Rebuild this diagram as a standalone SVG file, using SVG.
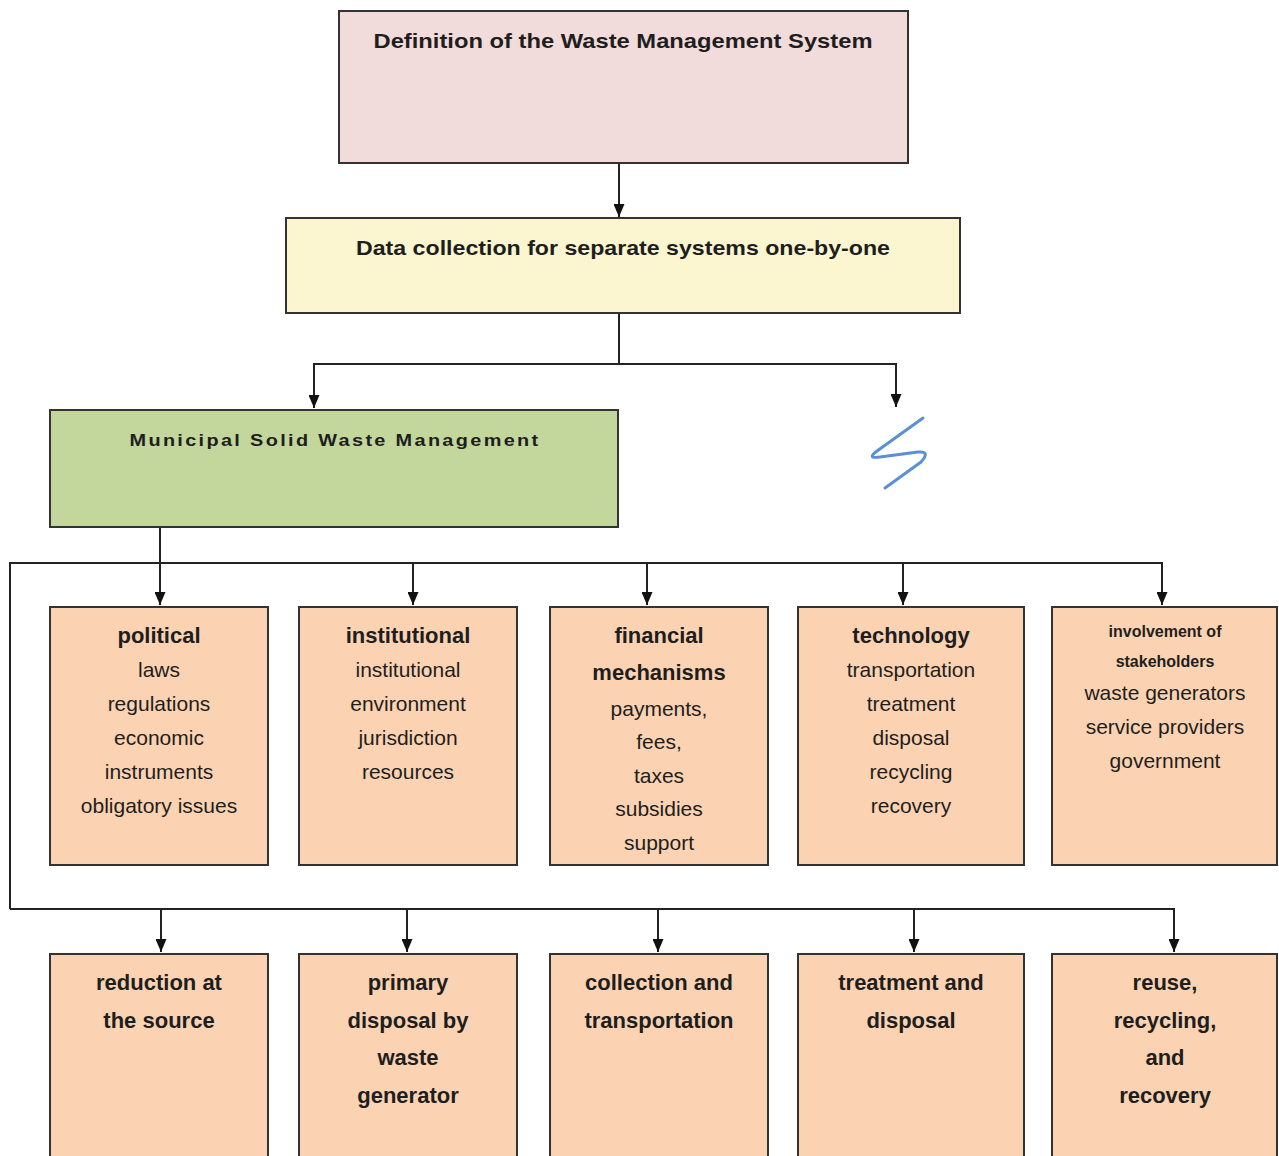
<svg xmlns="http://www.w3.org/2000/svg" width="1279" height="1156" viewBox="0 0 1279 1156">
<style>
.box{stroke:#333;stroke-width:2}
.pink{fill:#f2dbdb}.yellow{fill:#fbf6cf}.green{fill:#c3d69b}.peach{fill:#fbd3b2}
text{font-family:"Liberation Sans",Arial,sans-serif;fill:#1e1e1e;text-anchor:middle}
.t{font-weight:bold;font-size:22px}
.s{font-size:21px}
.h{font-weight:bold;font-size:21px}
.c{fill:none;stroke:#222;stroke-width:2}
</style>
<defs>
<marker id="ah" viewBox="0 0 10 10" markerWidth="13" markerHeight="11" refX="10" refY="5" orient="auto" markerUnits="userSpaceOnUse" preserveAspectRatio="none">
<path d="M0,0 L10,5 L0,10 z" fill="#111"/>
</marker>
</defs>
<rect width="1279" height="1156" fill="#fff"/>
<g id="connectors">
<path class="c" d="M619,163 V217" marker-end="url(#ah)"/>
<path class="c" d="M619,313 V364 H314 V408" marker-end="url(#ah)"/>
<path class="c" d="M619,364 H896 V407" marker-end="url(#ah)"/>
<path class="c" d="M160,527 V605" marker-end="url(#ah)"/>
<path class="c" d="M10,909 V563 H1162 V605" marker-end="url(#ah)"/>
<path class="c" d="M413,563 V605" marker-end="url(#ah)"/>
<path class="c" d="M647,563 V605" marker-end="url(#ah)"/>
<path class="c" d="M903,563 V605" marker-end="url(#ah)"/>
<path class="c" d="M10,909 H1174 V952" marker-end="url(#ah)"/>
<path class="c" d="M161,909 V952" marker-end="url(#ah)"/>
<path class="c" d="M407,909 V952" marker-end="url(#ah)"/>
<path class="c" d="M658,909 V952" marker-end="url(#ah)"/>
<path class="c" d="M914,909 V952" marker-end="url(#ah)"/>
</g>
<path id="squiggle" d="M923,418 L877,451 Q866,459 880,457 L918,452 Q931,451 921,462 L885,488" fill="none" stroke="#5b8fd6" stroke-width="3" stroke-linecap="round" stroke-linejoin="round"/>
<g id="definition">
<rect class="box pink" x="339" y="11" width="569" height="152"/>
<text class="h" x="623" y="48" textLength="499" lengthAdjust="spacingAndGlyphs">Definition of the Waste Management System</text>
</g>
<g id="datacollection">
<rect class="box yellow" x="286" y="218" width="674" height="95"/>
<text class="h" x="623" y="255" textLength="534" lengthAdjust="spacingAndGlyphs">Data collection for separate systems one-by-one</text>
</g>
<g id="msw">
<rect class="box green" x="50" y="410" width="568" height="117"/>
<text x="335" y="446" style="font-weight:bold;font-size:17px;letter-spacing:2px" textLength="411" lengthAdjust="spacingAndGlyphs">Municipal Solid Waste Management</text>
</g>
<g id="political">
<rect class="box peach" x="50" y="607" width="218" height="258"/>
<text class="t" x="159" y="643">political</text>
<text class="s" x="159" y="677">laws</text>
<text class="s" x="159" y="711">regulations</text>
<text class="s" x="159" y="745">economic</text>
<text class="s" x="159" y="779">instruments</text>
<text class="s" x="159" y="813">obligatory issues</text>
</g>
<g id="institutional">
<rect class="box peach" x="299" y="607" width="218" height="258"/>
<text class="t" x="408" y="643">institutional</text>
<text class="s" x="408" y="677">institutional</text>
<text class="s" x="408" y="711">environment</text>
<text class="s" x="408" y="745">jurisdiction</text>
<text class="s" x="408" y="779">resources</text>
</g>
<g id="financial">
<rect class="box peach" x="550" y="607" width="218" height="258"/>
<text class="t" x="659" y="643">financial</text>
<text class="t" x="659" y="680">mechanisms</text>
<text class="s" x="659" y="716">payments,</text>
<text class="s" x="659" y="749">fees,</text>
<text class="s" x="659" y="783">taxes</text>
<text class="s" x="659" y="816">subsidies</text>
<text class="s" x="659" y="850">support</text>
</g>
<g id="technology">
<rect class="box peach" x="798" y="607" width="226" height="258"/>
<text class="t" x="911" y="643">technology</text>
<text class="s" x="911" y="677">transportation</text>
<text class="s" x="911" y="711">treatment</text>
<text class="s" x="911" y="745">disposal</text>
<text class="s" x="911" y="779">recycling</text>
<text class="s" x="911" y="813">recovery</text>
</g>
<g id="stakeholders">
<rect class="box peach" x="1052" y="607" width="225" height="258"/>
<text x="1165" y="637" style="font-weight:bold;font-size:16px">involvement of</text>
<text x="1165" y="667" style="font-weight:bold;font-size:16px">stakeholders</text>
<text class="s" x="1165" y="700">waste generators</text>
<text class="s" x="1165" y="734">service providers</text>
<text class="s" x="1165" y="768">government</text>
</g>
<g id="reduction">
<rect class="box peach" x="50" y="954" width="218" height="220"/>
<text class="t" x="159" y="990">reduction at</text>
<text class="t" x="159" y="1028">the source</text>
</g>
<g id="primary">
<rect class="box peach" x="299" y="954" width="218" height="220"/>
<text class="t" x="408" y="990">primary</text>
<text class="t" x="408" y="1028">disposal by</text>
<text class="t" x="408" y="1065">waste</text>
<text class="t" x="408" y="1103">generator</text>
</g>
<g id="collection">
<rect class="box peach" x="550" y="954" width="218" height="220"/>
<text class="t" x="659" y="990">collection and</text>
<text class="t" x="659" y="1028">transportation</text>
</g>
<g id="treatment">
<rect class="box peach" x="798" y="954" width="226" height="220"/>
<text class="t" x="911" y="990">treatment and</text>
<text class="t" x="911" y="1028">disposal</text>
</g>
<g id="reuse">
<rect class="box peach" x="1052" y="954" width="225" height="220"/>
<text class="t" x="1165" y="990">reuse,</text>
<text class="t" x="1165" y="1028">recycling,</text>
<text class="t" x="1165" y="1065">and</text>
<text class="t" x="1165" y="1103">recovery</text>
</g>
</svg>
